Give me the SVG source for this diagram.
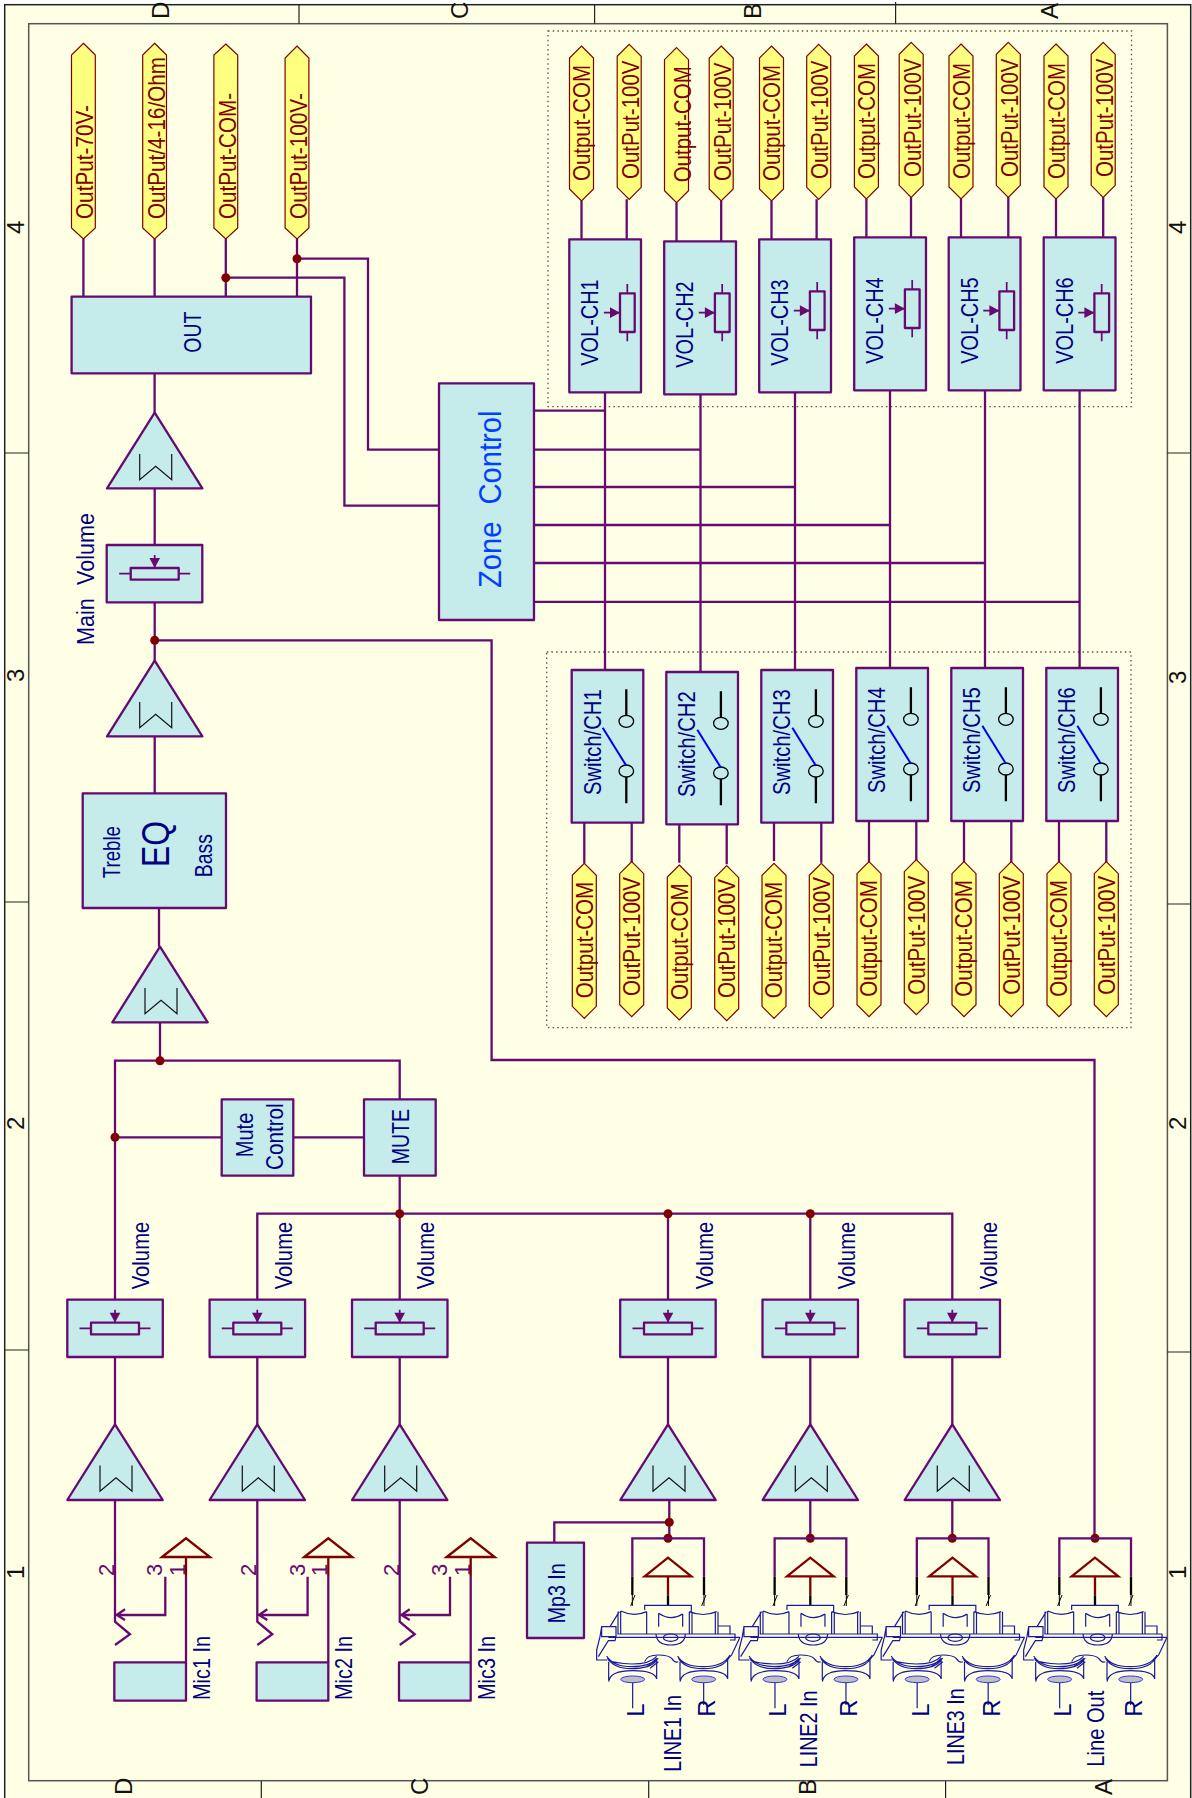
<svg xmlns="http://www.w3.org/2000/svg" width="1192" height="1798" viewBox="0 0 1192 1798">
<style>
text{font-family:"Liberation Sans",Arial,sans-serif;font-size:24px;fill:#000080}
.tg{fill:#800000}.fr{fill:#111;font-size:24px}.pin{fill:#660A70;font-size:22px}
.b{fill:#C6EBEB;stroke:#660A70;stroke-width:2.300;stroke-linejoin:round}
.w{fill:none;stroke:#660A70;stroke-width:2.300}
.tagp{fill:#FFFF80;stroke:#800000;stroke-width:1.200}
.dot{fill:#800000}
.gnd{fill:none;stroke:#800000;stroke-width:2.300}
.nv{fill:none;stroke:#1A1A9A;stroke-width:3.600}
.k{fill:none;stroke:#000;stroke-width:2.300}
.dots{fill:none;stroke:#555;stroke-width:1.300;stroke-dasharray:1.500 3.200}
</style>
<defs>
<path id="tag" class="tagp" d="M0,0L12,12V143L0,155L-12,143V12Z"/>
<g id="amp"><path class="b" d="M0,0L47.700,75.700H-47.700Z"/><path d="M-15,41.300V67L1,53.500L17,67V41.300" fill="none" stroke="#111" stroke-width="1.200"/></g>
<g id="hpot"><rect class="b" style="fill:none" x="-24" y="23" width="48" height="11.700"/><path class="w" style="stroke-width:1.700" d="M-35.500,28.700H-24M24,28.700H35.500M0,10V23"/><path d="M-5.300,13H5.300L0,23Z" fill="#660A70"/></g>
<g id="vpot"><rect class="b" style="fill:none" x="50.700" y="54" width="14.700" height="38.700"/><path class="w" style="stroke-width:1.700" d="M58,44.700V54M58,92.700V102M34.600,73.400H50"/><path d="M40.700,68L50.700,73.400L40.700,78.800Z" fill="#660A70"/></g>
<g id="sw"><path class="k" d="M54.600,19.300V45.300M54.600,107V133.300"/><ellipse class="k" style="stroke-width:1.300" cx="54.600" cy="51.300" rx="7.300" ry="6"/><ellipse class="k" style="stroke-width:1.300" cx="54.600" cy="101" rx="7.300" ry="6"/><path d="M31,57.700L54.600,95.700" stroke="#0000F0" stroke-width="2" fill="none"/></g>
<g id="mic"><path class="w" d="M0,0V121.700L15,134.300L0,145M50.300,76.700V115H1.700M10,109.300L1.700,115L10,120M71,76V162.300"/><path class="gnd" d="M47,57L71,38.300L95,57ZM71,57V76"/><rect class="b" x="-.7" y="162.300" width="71.700" height="38.400"/></g>
<g id="jack" transform="scale(.33333)">
<path class="w" style="stroke-width:6.900" d="M307,290V175H522V290"/>
<path class="k" style="stroke-width:6.900" d="M307,290V345M522,290V345M414,346V376"/>
<path class="k" style="stroke-width:3" d="M307,345V378M522,345V378M302,378L315,345M515,378L528,345"/>
<path class="gnd" style="stroke-width:6.900" d="M344,289L414,233L484,289ZM414,289V346"/>
<path class="nv" d="M344,390V376H484V395M272,393Q312,412 350,395M272,393V462M350,395V462M264,395V462M268,395L240,440M386,400Q422,425 458,402M386,400V440M458,402V440M478,395Q520,412 560,395M478,395V462M486,395V462M556,395V462M564,395V462M262,462H600M235,472H630"/>
<path class="nv" d="M215,440H258V470H215ZM215,440L210,470L200,510V540H232M258,470L255,482H235L205,530M564,438H600V462H615V480H600M630,472L605,525L590,540"/>
<ellipse class="nv" cx="422" cy="473" rx="22" ry="11"/>
<path class="nv" d="M378,462Q380,495 422,495Q465,495 466,462"/>
<path class="nv" d="M230,528Q250,560 305,560Q360,560 380,535M232,534Q252,566 305,566Q360,566 380,541M234,540Q254,550 305,552Q360,552 380,529M236,545V600M380,535V597M236,605Q240,572 308,572Q375,572 380,597"/>
<path class="nv" d="M443,528Q460,560 520,560Q580,560 600,525M445,534Q462,566 520,566Q580,566 598,531M450,545V600M593,535V597M450,605Q455,572 520,572Q590,572 593,597"/>
<path class="nv" d="M344,545Q350,525 385,525Q415,525 425,535Q435,550 445,545M350,560L385,535M360,565L385,545"/>
<ellipse cx="308" cy="598" rx="36" ry="10" fill="#C0C0C0" stroke="#3030FF" stroke-width="3"/>
<ellipse cx="521" cy="598" rx="36" ry="10" fill="#C0C0C0" stroke="#3030FF" stroke-width="3"/>
<path class="nv" d="M308,608V685M521,608V675"/>
</g>
</defs>

<g id="frame">
<rect x="4.700" y="4.700" width="1186" height="1800" fill="#FFFFE6" stroke="#222" stroke-width="1.500"/>
<rect x="28.700" y="23.700" width="1138.700" height="1757" fill="#FFFFE6" stroke="#555" stroke-width="1.500"/>
<path d="M299,4.700V23.700M594.600,4.700V23.700M895.600,2V23.700M4.700,453H28.700M4.700,902H28.700M4.700,1350H28.700M1167.400,453H1190M1167.400,904H1190M1167.400,1352H1190M261.300,1781V1798M648.700,1781V1798M945.600,1781V1798" fill="none" stroke="#222" stroke-width="1.200"/>
<text class="fr" transform="translate(168.800,19) rotate(-90)">D</text>
<text class="fr" transform="translate(467.700,19) rotate(-90)">C</text>
<text class="fr" transform="translate(761,19) rotate(-90)">B</text>
<text class="fr" transform="translate(1058,19) rotate(-90)">A</text>
<text class="fr" transform="translate(132,1795) rotate(-90)">D</text>
<text class="fr" transform="translate(428,1795) rotate(-90)">C</text>
<text class="fr" transform="translate(815.700,1795) rotate(-90)">B</text>
<text class="fr" transform="translate(1111.700,1795) rotate(-90)">A</text>
<text class="fr" transform="translate(24,234) rotate(-90)">4</text>
<text class="fr" transform="translate(24,682) rotate(-90)">3</text>
<text class="fr" transform="translate(24,1130) rotate(-90)">2</text>
<text class="fr" transform="translate(24,1579) rotate(-90)">1</text>
<text class="fr" transform="translate(1186.400,234) rotate(-90)">4</text>
<text class="fr" transform="translate(1186.400,684) rotate(-90)">3</text>
<text class="fr" transform="translate(1186.400,1130) rotate(-90)">2</text>
<text class="fr" transform="translate(1186.400,1579) rotate(-90)">1</text>
<rect class="dots" x="548" y="31" width="583.500" height="375.700"/>
<rect class="dots" x="546.700" y="652" width="584.300" height="375.700"/>
</g>

<g id="connectors">
<path class="w" d="M83.400,239V296.700M154.600,239V296.700M225.800,239V296.700M297,239V296.700M154.600,373.300V412.700"/>
<path class="w" d="M297,258.700H368V449.700H439M225.800,277.700H344.400V505.600H439"/>
<path class="w" d="M534,410.700H605M534,449.700H700.500M534,487H795M534,525H890M534,563H985M534,601.800H1079.600"/>
<path class="w" d="M605,392.300V670M700.500,394.300V672M795,392.300V670M890,390.300V668M985,390.300V668M1079.600,390.300V668"/>
<path class="w" d="M581.500,201V239.300M626.700,199.300V239.300M676.500,202.700V241.300M721.200,201V241.300M771.500,201V239.300M816.600,199.300V239.300M866.400,199V237.300M911,197.300V237.300M961,199V237.300M1008.300,197.300V237.300M1056,199V237.300M1103.200,197.300V237.300"/>
<path class="w" d="M584.300,822.700V863.300M631.700,822.700V862.700M679.300,824.300V862.700M726.700,824.300V864.300M774,822.700V861M821.300,822.700V862.700M869,821V862M916.300,821V861.700M964,821V862M1011.300,821V862M1059,821V862M1106.300,821V862"/>
<path class="w" d="M154.700,487V545M154.700,602.300V660.700M154.700,736V793.300M159,908V946.700M160,1022V1060.700"/>
<path class="w" d="M154.700,640.300H491.600V1060H1094.500V1538"/>
<path class="w" d="M399.700,1099.300V1060.700H115V1299.700M115,1137.300H221.700M293.300,1137.300H364M399.700,1175.700V1299.700M257.300,1299.700V1213.700H952.300V1299.700M668,1213.700V1299.700M810.300,1213.700V1299.700"/>
<path class="w" d="M115,1357V1424.300M257.300,1357V1424.300M399.700,1357V1424.300M668,1357V1424.300M810.300,1357V1424.300M952.300,1357V1424.300"/>
<path class="w" d="M669.300,1500V1538.300M810.300,1500V1538.300M952.300,1500V1538.300M554.300,1542.700V1522.300H669.300"/>
<circle class="dot" cx="297" cy="258.700" r="4.500"/>
<circle class="dot" cx="225.800" cy="277.700" r="4.500"/>
<circle class="dot" cx="154.700" cy="640.300" r="4.500"/>
<circle class="dot" cx="160" cy="1060.700" r="4.500"/>
<circle class="dot" cx="115" cy="1137.300" r="4.500"/>
<circle class="dot" cx="399.700" cy="1213.700" r="4.500"/>
<circle class="dot" cx="668" cy="1213.700" r="4.500"/>
<circle class="dot" cx="810.300" cy="1213.700" r="4.500"/>
<circle class="dot" cx="669.300" cy="1522.300" r="4.500"/>
<circle class="dot" cx="668" cy="1538.300" r="4.500"/>
<circle class="dot" cx="810.300" cy="1538.300" r="4.500"/>
<circle class="dot" cx="952.300" cy="1538.300" r="4.500"/>
<circle class="dot" cx="1095" cy="1538.300" r="4.500"/>
</g>

<g id="out-tags">
<path class="tagp" d="M83.400,43.300L95.300,55V228L83.400,239L71.500,228V55Z"/><text class="tg" transform="translate(93,219) rotate(-90)" textLength="114" lengthAdjust="spacingAndGlyphs">OutPut-70V-</text>
<path class="tagp" d="M154.600,43.300L166.500,55V228L154.600,239L142.700,228V55Z"/><text class="tg" transform="translate(164.600,219) rotate(-90)" textLength="162" lengthAdjust="spacingAndGlyphs">OutPut/4-16/Ohm</text>
<path class="tagp" d="M225.800,44L237.700,55V228L225.800,239L213.900,228V55Z"/><text class="tg" transform="translate(236,219) rotate(-90)" textLength="126" lengthAdjust="spacingAndGlyphs">OutPut-COM-</text>
<path class="tagp" d="M297,46L308.900,58V228L297,239L285.100,228V58Z"/><text class="tg" transform="translate(307,219) rotate(-90)" textLength="126" lengthAdjust="spacingAndGlyphs">OutPut-100V-</text>
</g>
<g id="out"><rect class="b" x="71.600" y="296.700" width="239.400" height="76.600"/><text transform="translate(201,352.700) rotate(-90)" textLength="41" lengthAdjust="spacingAndGlyphs">OUT</text></g>
<g id="zone"><rect class="b" x="439" y="383.300" width="95" height="236.700"/><text transform="translate(501,588) rotate(-90) scale(.91,1)" style="font-size:32px;fill:#0040FF;word-spacing:10px">Zone Control</text></g>

<g id="vol-ch1"><rect class="b" x="569.300" y="239.300" width="71.700" height="153"/><use href="#vpot" x="569.300" y="239.300"/><text transform="translate(598.400,365.700) rotate(-90)" textLength="86.400" lengthAdjust="spacingAndGlyphs">VOL-CH1</text></g>
<g id="vol-ch2"><rect class="b" x="664.200" y="241.300" width="71.800" height="153"/><use href="#vpot" x="664.200" y="239.300"/><text transform="translate(693.300,367.700) rotate(-90)" textLength="86.400" lengthAdjust="spacingAndGlyphs">VOL-CH2</text></g>
<g id="vol-ch3"><rect class="b" x="759.200" y="239.300" width="71.800" height="153"/><use href="#vpot" x="759.200" y="237.300"/><text transform="translate(788.300,365.700) rotate(-90)" textLength="86.400" lengthAdjust="spacingAndGlyphs">VOL-CH3</text></g>
<g id="vol-ch4"><rect class="b" x="854.200" y="237.300" width="71.800" height="153"/><use href="#vpot" x="854.200" y="235.300"/><text transform="translate(883.300,363.700) rotate(-90)" textLength="86.400" lengthAdjust="spacingAndGlyphs">VOL-CH4</text></g>
<g id="vol-ch5"><rect class="b" x="948.700" y="237.300" width="71.800" height="153"/><use href="#vpot" x="948.700" y="237.300"/><text transform="translate(977.800,363.700) rotate(-90)" textLength="86.400" lengthAdjust="spacingAndGlyphs">VOL-CH5</text></g>
<g id="vol-ch6"><rect class="b" x="1043.700" y="237.300" width="71.800" height="153"/><use href="#vpot" x="1043.700" y="239.300"/><text transform="translate(1072.800,363.700) rotate(-90)" textLength="86.400" lengthAdjust="spacingAndGlyphs">VOL-CH6</text></g>

<g id="top-tags">
<use href="#tag" x="581.500" y="46"/><text class="tg" transform="translate(590.400,181) rotate(-90)" textLength="116" lengthAdjust="spacingAndGlyphs">Output-COM</text>
<use href="#tag" x="629.200" y="44.300"/><text class="tg" transform="translate(638.500,179) rotate(-90)" textLength="118.500" lengthAdjust="spacingAndGlyphs">OutPut-100V</text>
<use href="#tag" x="676.500" y="47.700"/><text class="tg" transform="translate(691,182.300) rotate(-90)" textLength="116" lengthAdjust="spacingAndGlyphs">Output-COM</text>
<use href="#tag" x="721.200" y="46"/><text class="tg" transform="translate(730.500,181) rotate(-90)" textLength="118.500" lengthAdjust="spacingAndGlyphs">OutPut-100V</text>
<use href="#tag" x="771.500" y="46"/><text class="tg" transform="translate(780.300,181) rotate(-90)" textLength="116" lengthAdjust="spacingAndGlyphs">Output-COM</text>
<use href="#tag" x="818.700" y="44.300"/><text class="tg" transform="translate(828,179) rotate(-90)" textLength="118.500" lengthAdjust="spacingAndGlyphs">OutPut-100V</text>
<use href="#tag" x="866.400" y="44"/><text class="tg" transform="translate(875.300,179) rotate(-90)" textLength="116" lengthAdjust="spacingAndGlyphs">Output-COM</text>
<use href="#tag" x="911.200" y="42.300"/><text class="tg" transform="translate(920.500,177) rotate(-90)" textLength="118.500" lengthAdjust="spacingAndGlyphs">OutPut-100V</text>
<use href="#tag" x="961" y="44"/><text class="tg" transform="translate(969.800,179) rotate(-90)" textLength="116" lengthAdjust="spacingAndGlyphs">Output-COM</text>
<use href="#tag" x="1008.300" y="42.300"/><text class="tg" transform="translate(1017.500,177) rotate(-90)" textLength="118.500" lengthAdjust="spacingAndGlyphs">OutPut-100V</text>
<use href="#tag" x="1056" y="44"/><text class="tg" transform="translate(1064.800,179) rotate(-90)" textLength="116" lengthAdjust="spacingAndGlyphs">Output-COM</text>
<use href="#tag" x="1103.200" y="42.300"/><text class="tg" transform="translate(1112.500,177) rotate(-90)" textLength="118.500" lengthAdjust="spacingAndGlyphs">OutPut-100V</text>
</g>

<g id="sw-ch1"><rect class="b" x="571.700" y="670" width="71.600" height="152.700"/><use href="#sw" x="571.700" y="670"/><text transform="translate(600.700,795) rotate(-90)" textLength="105.700" lengthAdjust="spacingAndGlyphs">Switch/CH1</text></g>
<g id="sw-ch2"><rect class="b" x="666.300" y="672" width="71.700" height="152.300"/><use href="#sw" x="666.300" y="672"/><text transform="translate(695.300,797) rotate(-90)" textLength="105.700" lengthAdjust="spacingAndGlyphs">Switch/CH2</text></g>
<g id="sw-ch3"><rect class="b" x="761.300" y="670" width="71.700" height="152.700"/><use href="#sw" x="761.300" y="670"/><text transform="translate(790.300,795) rotate(-90)" textLength="105.700" lengthAdjust="spacingAndGlyphs">Switch/CH3</text></g>
<g id="sw-ch4"><rect class="b" x="856.300" y="668" width="71.700" height="153"/><use href="#sw" x="856.300" y="668"/><text transform="translate(885.300,793) rotate(-90)" textLength="105.700" lengthAdjust="spacingAndGlyphs">Switch/CH4</text></g>
<g id="sw-ch5"><rect class="b" x="951.300" y="668" width="71.700" height="153"/><use href="#sw" x="951.300" y="668"/><text transform="translate(980.300,793) rotate(-90)" textLength="105.700" lengthAdjust="spacingAndGlyphs">Switch/CH5</text></g>
<g id="sw-ch6"><rect class="b" x="1046.300" y="668" width="71.700" height="153"/><use href="#sw" x="1046.300" y="668"/><text transform="translate(1075.300,793) rotate(-90)" textLength="105.700" lengthAdjust="spacingAndGlyphs">Switch/CH6</text></g>

<g id="bottom-tags">
<use href="#tag" x="584.300" y="863.300"/><text class="tg" transform="translate(592.700,998.300) rotate(-90)" textLength="116.500" lengthAdjust="spacingAndGlyphs">Output-COM</text>
<use href="#tag" x="631.700" y="861.700"/><text class="tg" transform="translate(640,996) rotate(-90)" textLength="119" lengthAdjust="spacingAndGlyphs">OutPut-100V</text>
<use href="#tag" x="679.300" y="865"/><text class="tg" transform="translate(687.700,1000) rotate(-90)" textLength="116.500" lengthAdjust="spacingAndGlyphs">Output-COM</text>
<use href="#tag" x="726.700" y="865.700"/><text class="tg" transform="translate(735,998) rotate(-90)" textLength="119" lengthAdjust="spacingAndGlyphs">OutPut-100V</text>
<use href="#tag" x="774" y="863.300"/><text class="tg" transform="translate(782.400,998.300) rotate(-90)" textLength="116.500" lengthAdjust="spacingAndGlyphs">Output-COM</text>
<use href="#tag" x="821.300" y="863.300"/><text class="tg" transform="translate(829.600,996) rotate(-90)" textLength="119" lengthAdjust="spacingAndGlyphs">OutPut-100V</text>
<use href="#tag" x="869" y="861.700"/><text class="tg" transform="translate(877.400,996.700) rotate(-90)" textLength="116.500" lengthAdjust="spacingAndGlyphs">Output-COM</text>
<use href="#tag" x="916.300" y="859.700"/><text class="tg" transform="translate(924.600,994.700) rotate(-90)" textLength="119" lengthAdjust="spacingAndGlyphs">OutPut-100V</text>
<use href="#tag" x="964" y="861.700"/><text class="tg" transform="translate(972.400,996.700) rotate(-90)" textLength="116.500" lengthAdjust="spacingAndGlyphs">Output-COM</text>
<use href="#tag" x="1011.300" y="861.700"/><text class="tg" transform="translate(1019.600,994.700) rotate(-90)" textLength="119" lengthAdjust="spacingAndGlyphs">OutPut-100V</text>
<use href="#tag" x="1059" y="861.700"/><text class="tg" transform="translate(1067.400,996.700) rotate(-90)" textLength="116.500" lengthAdjust="spacingAndGlyphs">Output-COM</text>
<use href="#tag" x="1106.300" y="861.700"/><text class="tg" transform="translate(1114.600,994.700) rotate(-90)" textLength="119" lengthAdjust="spacingAndGlyphs">OutPut-100V</text>
</g>

<g id="amp-out"><use href="#amp" x="154.700" y="412.700"/></g>
<g id="main-volume"><rect class="b" x="106.700" y="545" width="95.600" height="57.300"/><use href="#hpot" x="154.700" y="545"/><text transform="translate(94.300,645) rotate(-90) scale(.9,1)" style="word-spacing:8px">Main Volume</text></g>
<g id="amp-pre"><use href="#amp" x="154.700" y="660.700"/></g>
<g id="eq"><rect class="b" x="82.700" y="793.300" width="143.300" height="114.700"/><text transform="translate(120,878.300) rotate(-90)" textLength="52.300" lengthAdjust="spacingAndGlyphs">Treble</text><text transform="translate(169,867) rotate(-90)" textLength="46" lengthAdjust="spacingAndGlyphs" style="font-size:39px">EQ</text><text transform="translate(212.300,877.300) rotate(-90)" textLength="43.300" lengthAdjust="spacingAndGlyphs">Bass</text></g>
<g id="amp-mix"><use href="#amp" x="160" y="946.700"/></g>
<g id="mute-control"><rect class="b" x="221.700" y="1099.300" width="71.600" height="76.400"/><text transform="translate(253.300,1157.300) rotate(-90)" textLength="44.600" lengthAdjust="spacingAndGlyphs">Mute</text><text transform="translate(282.700,1170) rotate(-90)" textLength="66.700" lengthAdjust="spacingAndGlyphs">Control</text></g>
<g id="mute"><rect class="b" x="364" y="1099.300" width="71.700" height="76.400"/><text transform="translate(409,1164.300) rotate(-90)" textLength="55.300" lengthAdjust="spacingAndGlyphs">MUTE</text></g>

<g id="vol-1"><rect class="b" x="67.300" y="1299.700" width="95.500" height="57.300"/><use href="#hpot" x="115" y="1299.700"/><text transform="translate(149.300,1289.300) rotate(-90)" textLength="67.600" lengthAdjust="spacingAndGlyphs">Volume</text></g>
<g id="vol-2"><rect class="b" x="209.600" y="1299.700" width="95.500" height="57.300"/><use href="#hpot" x="257.300" y="1299.700"/><text transform="translate(291.600,1289.300) rotate(-90)" textLength="67.600" lengthAdjust="spacingAndGlyphs">Volume</text></g>
<g id="vol-3"><rect class="b" x="352" y="1299.700" width="95.500" height="57.300"/><use href="#hpot" x="399.700" y="1299.700"/><text transform="translate(434,1289.300) rotate(-90)" textLength="67.600" lengthAdjust="spacingAndGlyphs">Volume</text></g>
<g id="vol-4"><rect class="b" x="620.200" y="1299.700" width="95.500" height="57.300"/><use href="#hpot" x="668" y="1299.700"/><text transform="translate(712.500,1289.300) rotate(-90)" textLength="67.600" lengthAdjust="spacingAndGlyphs">Volume</text></g>
<g id="vol-5"><rect class="b" x="762.500" y="1299.700" width="95.500" height="57.300"/><use href="#hpot" x="810.300" y="1299.700"/><text transform="translate(854.800,1289.300) rotate(-90)" textLength="67.600" lengthAdjust="spacingAndGlyphs">Volume</text></g>
<g id="vol-6"><rect class="b" x="904.500" y="1299.700" width="95.500" height="57.300"/><use href="#hpot" x="952.300" y="1299.700"/><text transform="translate(997.300,1289.300) rotate(-90)" textLength="67.600" lengthAdjust="spacingAndGlyphs">Volume</text></g>

<g id="amp-1"><use href="#amp" x="115" y="1424.300"/></g>
<g id="amp-2"><use href="#amp" x="257.300" y="1424.300"/></g>
<g id="amp-3"><use href="#amp" x="399.700" y="1424.300"/></g>
<g id="amp-4"><use href="#amp" x="668" y="1424.300"/></g>
<g id="amp-5"><use href="#amp" x="810.300" y="1424.300"/></g>
<g id="amp-6"><use href="#amp" x="952.300" y="1424.300"/></g>

<g id="mic1"><use href="#mic" x="115" y="1500"/><text class="pin" transform="translate(114,1576) rotate(-90)">2</text><text class="pin" transform="translate(162.300,1576) rotate(-90)">3</text><text class="pin" transform="translate(185,1576) rotate(-90)">1</text><text transform="translate(210,1700) rotate(-90)" textLength="64" lengthAdjust="spacingAndGlyphs">Mic1 In</text></g>
<g id="mic2"><use href="#mic" x="257.300" y="1500"/><text class="pin" transform="translate(256.300,1576) rotate(-90)">2</text><text class="pin" transform="translate(304.600,1576) rotate(-90)">3</text><text class="pin" transform="translate(327.300,1576) rotate(-90)">1</text><text transform="translate(352.300,1700) rotate(-90)" textLength="64" lengthAdjust="spacingAndGlyphs">Mic2 In</text></g>
<g id="mic3"><use href="#mic" x="399.700" y="1500"/><text class="pin" transform="translate(398.700,1576) rotate(-90)">2</text><text class="pin" transform="translate(447,1576) rotate(-90)">3</text><text class="pin" transform="translate(469.700,1576) rotate(-90)">1</text><text transform="translate(494.700,1700) rotate(-90)" textLength="64" lengthAdjust="spacingAndGlyphs">Mic3 In</text></g>

<g id="mp3"><rect class="b" x="527" y="1542.700" width="57" height="95.300"/><text transform="translate(565,1623.300) rotate(-90)" textLength="60" lengthAdjust="spacingAndGlyphs">Mp3 In</text></g>

<g id="line1"><g transform="translate(530,1480)"><use href="#jack"/></g><text transform="translate(644,1716.700) rotate(-90)">L</text><text transform="translate(681,1771.700) rotate(-90)" textLength="76.700" lengthAdjust="spacingAndGlyphs">LINE1 In</text><text transform="translate(715,1716.700) rotate(-90)">R</text></g>
<g id="line2"><g transform="translate(672.300,1480)"><use href="#jack"/></g><text transform="translate(786.300,1716.700) rotate(-90)">L</text><text transform="translate(817.300,1767.300) rotate(-90)" textLength="76.700" lengthAdjust="spacingAndGlyphs">LINE2 In</text><text transform="translate(857.300,1716.700) rotate(-90)">R</text></g>
<g id="line3"><g transform="translate(814.500,1480)"><use href="#jack"/></g><text transform="translate(928.500,1716.700) rotate(-90)">L</text><text transform="translate(964,1765) rotate(-90)" textLength="76.700" lengthAdjust="spacingAndGlyphs">LINE3 In</text><text transform="translate(999.500,1716.700) rotate(-90)">R</text></g>
<g id="lineout"><g transform="translate(957,1480)"><use href="#jack"/></g><text transform="translate(1071,1716.700) rotate(-90)">L</text><text transform="translate(1104,1766.700) rotate(-90)" textLength="76" lengthAdjust="spacingAndGlyphs">Line Out</text><text transform="translate(1142,1716.700) rotate(-90)">R</text></g>
</svg>
